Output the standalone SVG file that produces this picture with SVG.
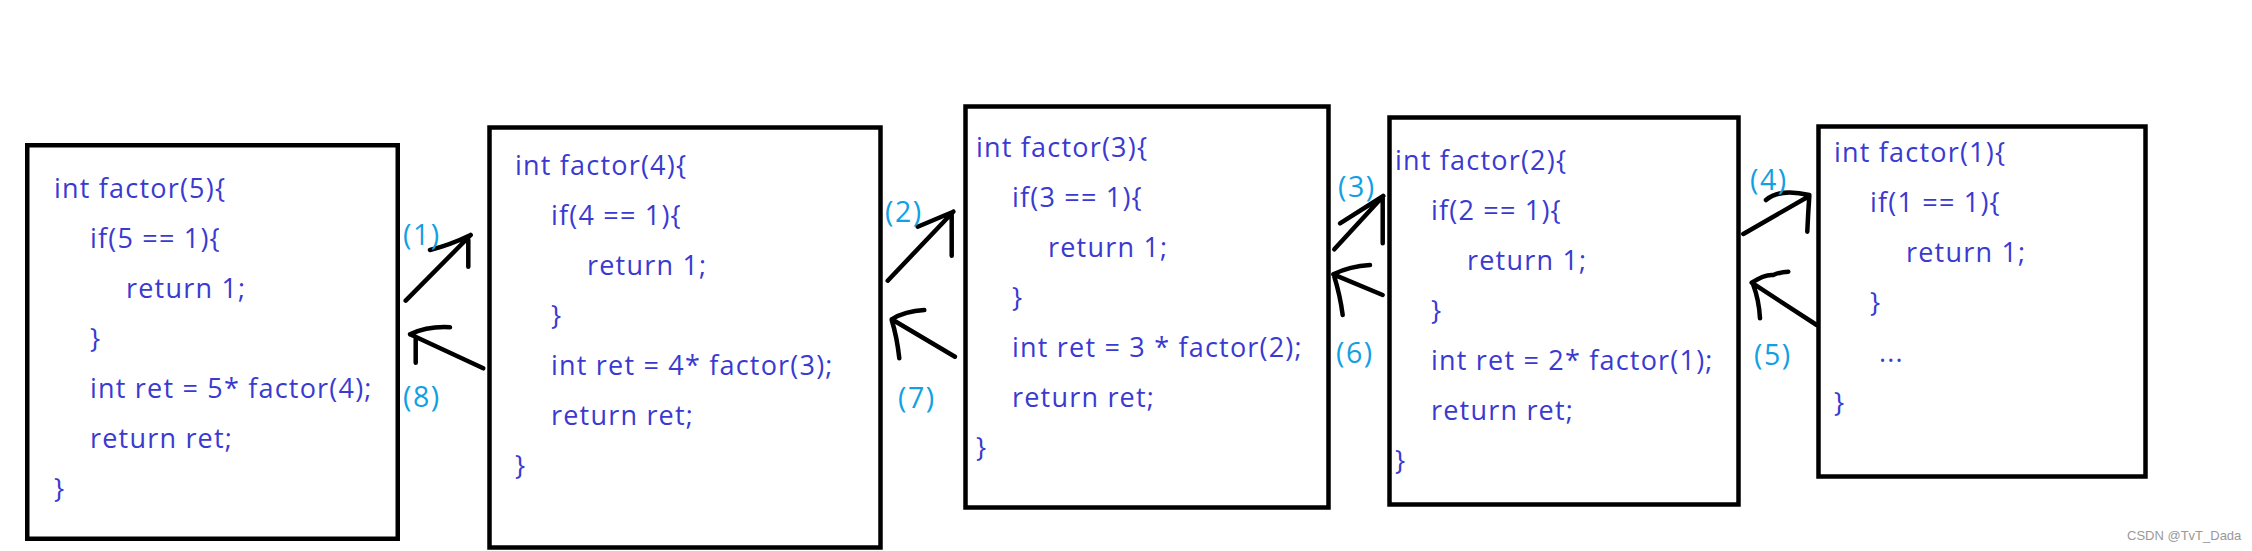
<svg xmlns="http://www.w3.org/2000/svg" width="2252" height="551" viewBox="0 0 2252 551">
<style>
.box{fill:#fff;stroke:#000;stroke-width:4.5}
.code{font-family:"Open Sans","Noto Sans",sans-serif;font-size:27px;letter-spacing:1.2px;fill:#3a3ad0}
.lbl{font-family:"Open Sans","Noto Sans",sans-serif;font-size:28.5px;letter-spacing:1.5px;fill:#12a0e2}
.pen{fill:none;stroke:#000;stroke-width:4.5;stroke-linecap:round;stroke-linejoin:round}
.wm{font-family:"Liberation Sans",Arial,sans-serif;font-size:13px;fill:#999}
</style>
<rect width="2252" height="551" fill="#fff"/>
<g id="node-factor5">
<rect class="box" x="27.25" y="145.25" width="370.5" height="393.5"/>
<g class="code">
<text x="54" y="198">int factor(5){</text>
<text x="90" y="248">if(5 == 1){</text>
<text x="126" y="298">return 1;</text>
<text x="90" y="348">}</text>
<text x="90" y="398">int ret = 5* factor(4);</text>
<text x="90" y="448">return ret;</text>
<text x="54" y="498">}</text>
</g>
</g>
<g id="node-factor4">
<rect class="box" x="489.5" y="127.5" width="391" height="420"/>
<g class="code">
<text x="515" y="175">int factor(4){</text>
<text x="551" y="225">if(4 == 1){</text>
<text x="587" y="275">return 1;</text>
<text x="551" y="325">}</text>
<text x="551" y="375">int ret = 4* factor(3);</text>
<text x="551" y="425">return ret;</text>
<text x="515" y="475">}</text>
</g>
</g>
<g id="node-factor3">
<rect class="box" x="965.5" y="106.5" width="363" height="401"/>
<g class="code">
<text x="976" y="157">int factor(3){</text>
<text x="1012" y="207">if(3 == 1){</text>
<text x="1048" y="257">return 1;</text>
<text x="1012" y="307">}</text>
<text x="1012" y="357">int ret = 3 * factor(2);</text>
<text x="1012" y="407">return ret;</text>
<text x="976" y="457">}</text>
</g>
</g>
<g id="node-factor2">
<rect class="box" x="1389.5" y="117.5" width="349" height="387"/>
<g class="code">
<text x="1395" y="170">int factor(2){</text>
<text x="1431" y="220">if(2 == 1){</text>
<text x="1467" y="270">return 1;</text>
<text x="1431" y="320">}</text>
<text x="1431" y="370">int ret = 2* factor(1);</text>
<text x="1431" y="420">return ret;</text>
<text x="1395" y="470">}</text>
</g>
</g>
<g id="node-factor1">
<rect class="box" x="1818.5" y="126.5" width="327" height="350"/>
<g class="code">
<text x="1834" y="162">int factor(1){</text>
<text x="1870" y="212">if(1 == 1){</text>
<text x="1906" y="262">return 1;</text>
<text x="1870" y="312">}</text>
<text x="1879" y="362">...</text>
<text x="1834" y="412">}</text>
</g>
</g>
<g id="connectors">
<path class="pen" d="M405.7 300.7 L470.7 235 M430 250 Q450 245 470.7 235 M468.3 240 L468.3 266.7"/>
<path class="pen" d="M483.3 368.3 L410 334.3 M410 334.3 Q428 326 450 327.3 M415.7 336.7 L415.7 362.7"/>
<path class="pen" d="M887.7 280.7 L953.3 211.7 M917.7 226.7 L953.3 211.7 M951.7 213.3 L951.7 255.7"/>
<path class="pen" d="M955 356.7 L891.7 319.3 M891.7 319.3 Q905 311 924.3 310 M891.7 320 Q897 337 899.3 358.3"/>
<path class="pen" d="M1334.3 249.3 L1383.3 196 M1340 223.3 L1383.3 196 M1382.7 196.7 L1382.7 243.3"/>
<path class="pen" d="M1382.7 295 L1333.3 274.3 M1333.3 274.3 Q1350 266 1370 265 M1334.3 276.7 Q1340 295 1342.7 315"/>
<path class="pen" d="M1743.3 234 L1809.3 196 M1766 200 Q1780 188 1809.3 195 M1809.3 196 Q1808 215 1807.3 231.7"/>
<path class="pen" d="M1816.7 325 L1751.7 282.7 M1751.7 282.7 Q1765 274 1773.3 275 Q1780 272 1788.3 271.7 M1753.3 285 Q1759 300 1760 318.3"/>
<text class="lbl" x="403" y="245">(1)</text>
<text class="lbl" x="403" y="407">(8)</text>
<text class="lbl" x="885" y="222">(2)</text>
<text class="lbl" x="898" y="408">(7)</text>
<text class="lbl" x="1338" y="197">(3)</text>
<text class="lbl" x="1336" y="363">(6)</text>
<text class="lbl" x="1750" y="190">(4)</text>
<text class="lbl" x="1754" y="365">(5)</text>
</g>
<text class="wm" x="2127" y="540">CSDN @TvT_Dada</text>
</svg>
